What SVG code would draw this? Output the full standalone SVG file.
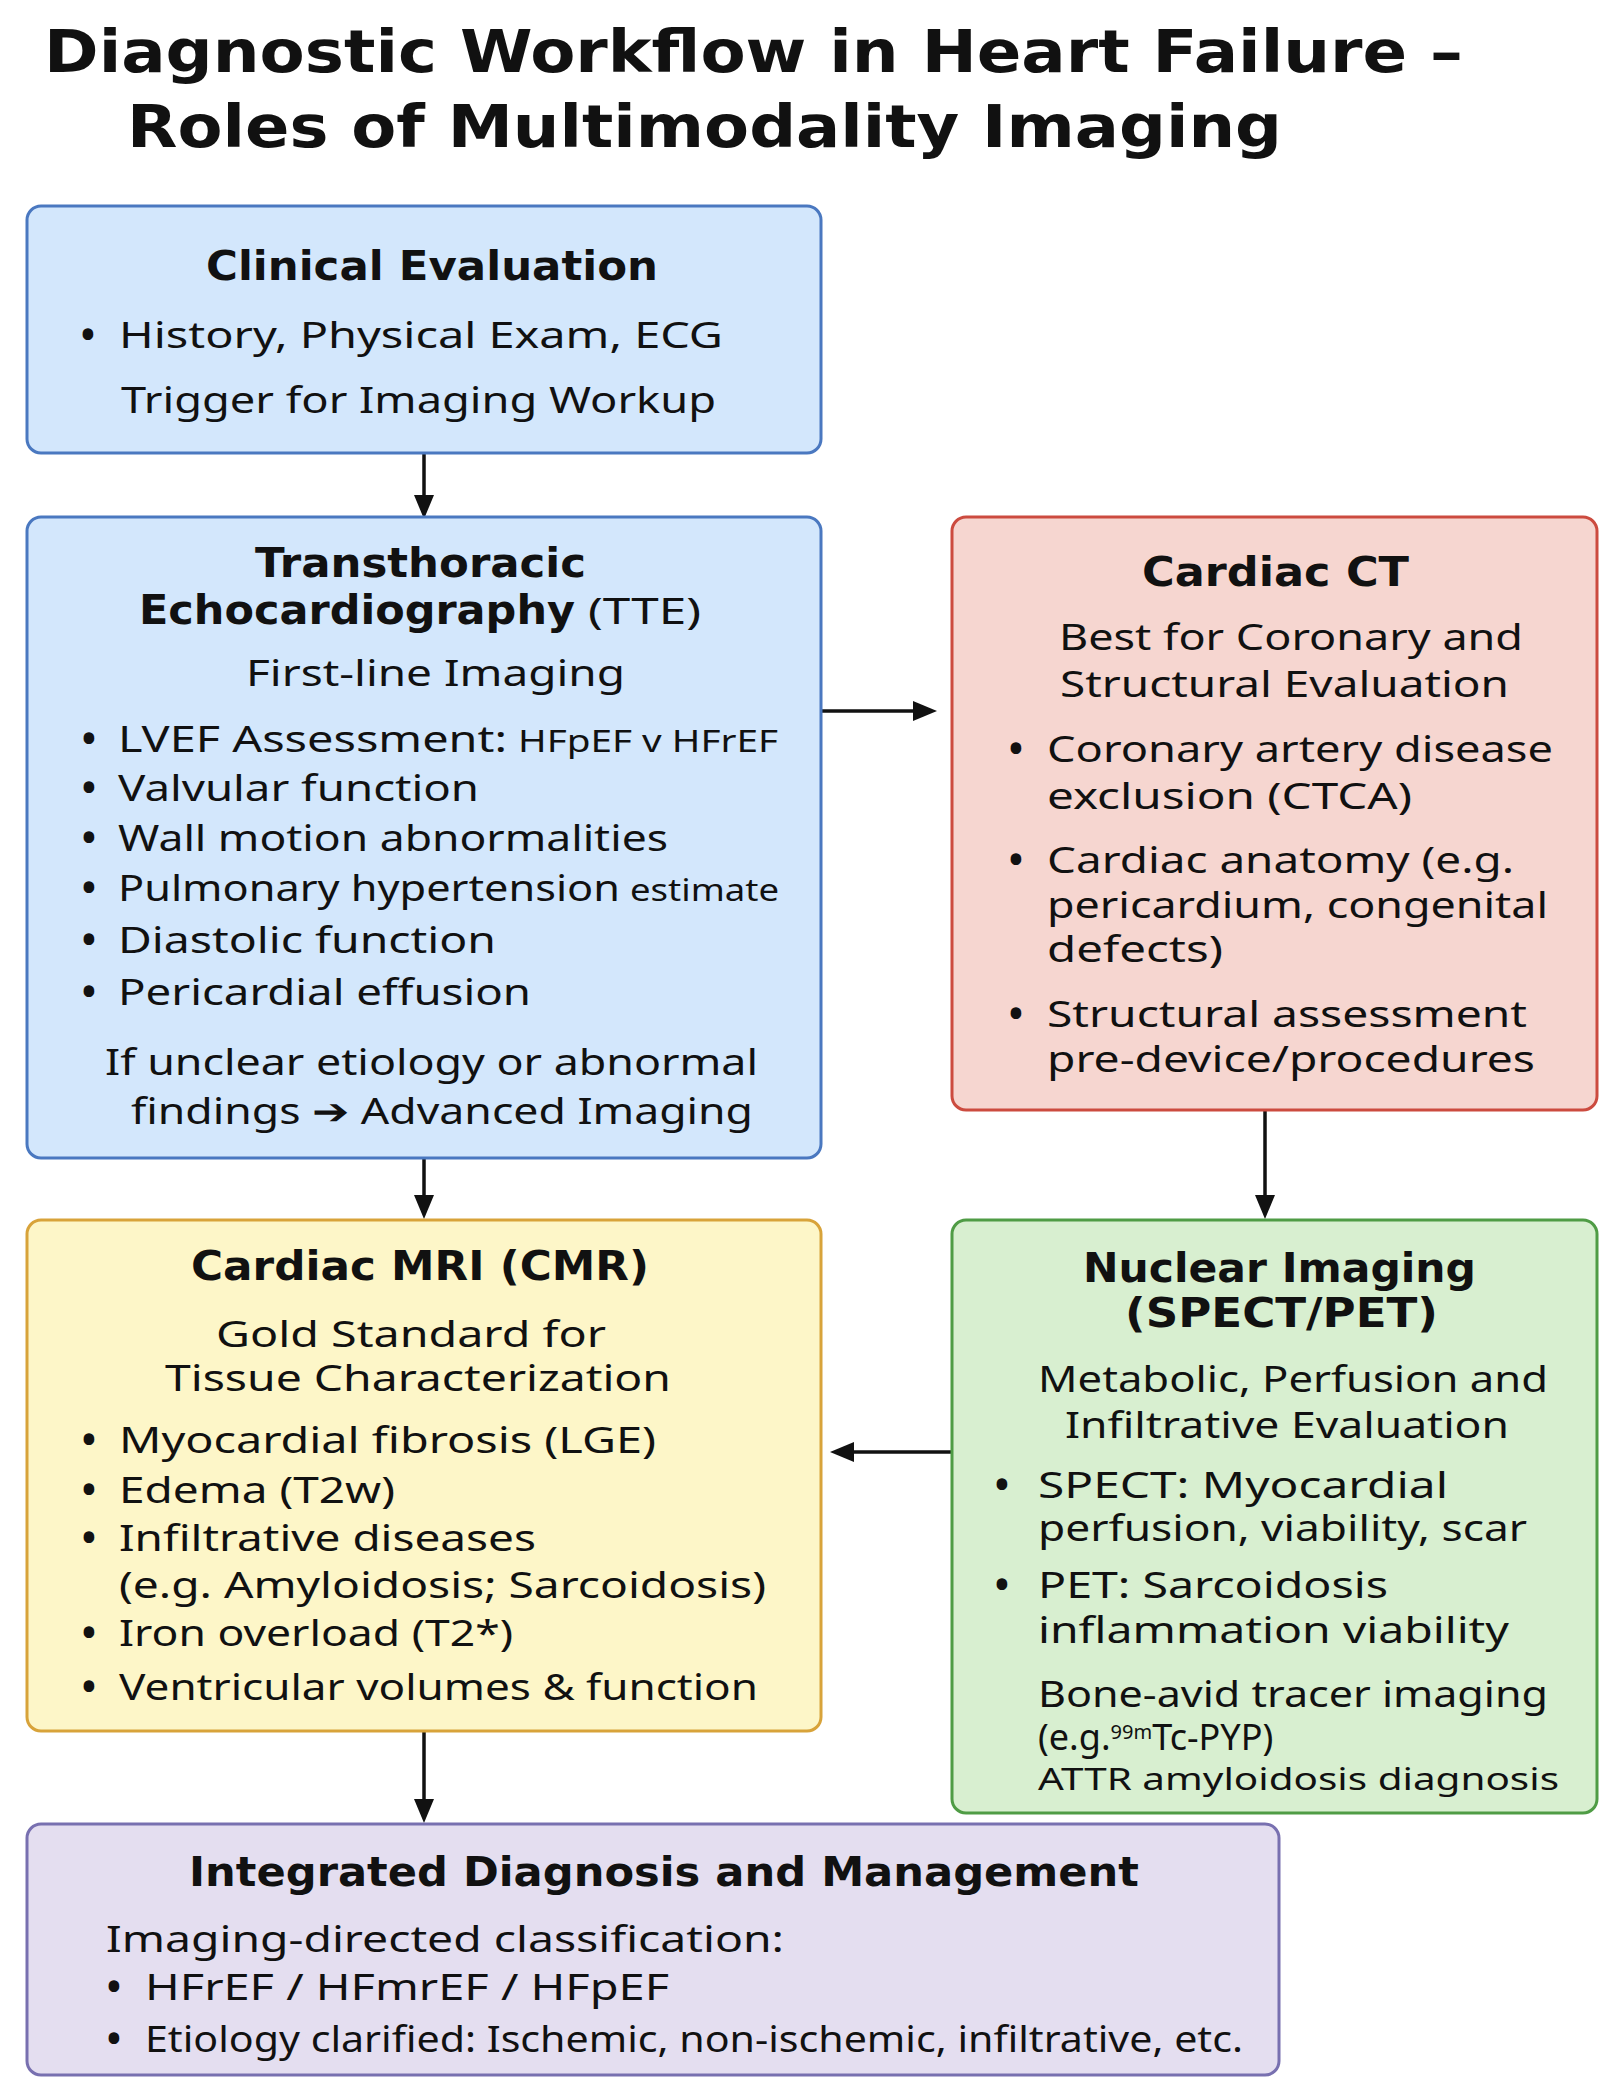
<svg xmlns="http://www.w3.org/2000/svg" width="1619" height="2099" viewBox="0 0 1619 2099">
<defs>
<marker id="ah" markerUnits="userSpaceOnUse" markerWidth="26" markerHeight="22" refX="11" refY="10" orient="auto">
<path d="M0,0 L24,10 L0,20 z" fill="#111"/>
</marker>
<style>
.box{stroke-width:3}
.blue{fill:#d3e7fc;stroke:#4a78c0}
.red{fill:#f6d6d0;stroke:#cc4b3f}
.yellow{fill:#fdf6c8;stroke:#d8a33a}
.green{fill:#d8efd0;stroke:#4f9c45}
.purple{fill:#e4def0;stroke:#7870b0}
text{fill:#111}
.title{font-family:"DejaVu Sans","Liberation Sans",sans-serif;font-weight:bold;font-size:58px}
.h{font-family:"DejaVu Sans","Liberation Sans",sans-serif;font-weight:bold;font-size:40px}
.t{font-family:"Noto Sans","Open Sans","Liberation Sans",sans-serif;font-size:36px}
.s{font-family:"Noto Sans","Open Sans","Liberation Sans",sans-serif;font-size:31px}
.b{font-family:"Noto Sans","Liberation Sans",sans-serif;font-weight:bold;font-size:38px;text-anchor:middle}
.conn{fill:none;stroke:#111;stroke-width:3.5;marker-end:url(#ah)}
</style>
</defs>
<rect width="1619" height="2099" fill="#ffffff"/>
<g id="title">
<text class="title" x="44" y="72" textLength="1419" lengthAdjust="spacingAndGlyphs">Diagnostic Workflow in Heart Failure –</text>
<text class="title" x="127" y="147" textLength="1155" lengthAdjust="spacingAndGlyphs">Roles of Multimodality Imaging</text>
</g>
<g id="connectors">
<path class="conn" d="M424,453 V506"/>
<path class="conn" d="M821,711 H924"/>
<path class="conn" d="M424,1158 V1206"/>
<path class="conn" d="M1265,1110 V1206"/>
<path class="conn" d="M952,1452 H843"/>
<path class="conn" d="M424,1731 V1810"/>
</g>
<g id="clinical-evaluation">
<rect class="box blue" x="27" y="206" width="794" height="247" rx="14"/>
<text class="h" x="206" y="280" textLength="452" lengthAdjust="spacingAndGlyphs">Clinical Evaluation</text>
<text class="b" x="88" y="348">•</text>
<text class="t" x="119" y="348" textLength="604" lengthAdjust="spacingAndGlyphs">History, Physical Exam, ECG</text>
<text class="t" x="121" y="413" textLength="595" lengthAdjust="spacingAndGlyphs">Trigger for Imaging Workup</text>
</g>
<g id="tte">
<rect class="box blue" x="27" y="517" width="794" height="641" rx="14"/>
<text class="h" x="255" y="577" textLength="331" lengthAdjust="spacingAndGlyphs">Transthoracic</text>
<text class="h" x="139" y="624" textLength="436" lengthAdjust="spacingAndGlyphs">Echocardiography</text>
<text class="t" x="588" y="624" font-size="40" textLength="113" lengthAdjust="spacingAndGlyphs">(TTE)</text>
<text class="t" x="246" y="686" font-size="38" textLength="379" lengthAdjust="spacingAndGlyphs">First-line Imaging</text>
<text class="b" x="89" y="752">•</text>
<text class="t" x="118" y="752" textLength="389" lengthAdjust="spacingAndGlyphs">LVEF Assessment:</text>
<text class="s" x="518" y="752" font-size="33" textLength="260" lengthAdjust="spacingAndGlyphs">HFpEF v HFrEF</text>
<text class="b" x="89" y="801">•</text>
<text class="t" x="118" y="801" textLength="361" lengthAdjust="spacingAndGlyphs">Valvular function</text>
<text class="b" x="89" y="851">•</text>
<text class="t" x="118" y="851" textLength="550" lengthAdjust="spacingAndGlyphs">Wall motion abnormalities</text>
<text class="b" x="89" y="901">•</text>
<text class="t" x="118" y="901" textLength="502" lengthAdjust="spacingAndGlyphs">Pulmonary hypertension</text>
<text class="s" x="630" y="901" textLength="149" lengthAdjust="spacingAndGlyphs">estimate</text>
<text class="b" x="89" y="953">•</text>
<text class="t" x="118" y="953" textLength="378" lengthAdjust="spacingAndGlyphs">Diastolic function</text>
<text class="b" x="89" y="1005">•</text>
<text class="t" x="118" y="1005" textLength="413" lengthAdjust="spacingAndGlyphs">Pericardial effusion</text>
<text class="t" x="105" y="1075" font-size="37" textLength="653" lengthAdjust="spacingAndGlyphs">If unclear etiology or abnormal</text>
<text class="t" x="131" y="1124" font-size="37" textLength="622" lengthAdjust="spacingAndGlyphs">findings ➔ Advanced Imaging</text>
</g>
<g id="cardiac-ct">
<rect class="box red" x="952" y="517" width="645" height="593" rx="14"/>
<text class="h" x="1142" y="586" textLength="267" lengthAdjust="spacingAndGlyphs">Cardiac CT</text>
<text class="t" x="1059" y="650" font-size="37" textLength="464" lengthAdjust="spacingAndGlyphs">Best for Coronary and</text>
<text class="t" x="1060" y="697" font-size="37" textLength="449" lengthAdjust="spacingAndGlyphs">Structural Evaluation</text>
<text class="b" x="1016" y="762">•</text>
<text class="t" x="1047" y="762" font-size="37" textLength="506" lengthAdjust="spacingAndGlyphs">Coronary artery disease</text>
<text class="t" x="1047" y="809" font-size="37" textLength="365" lengthAdjust="spacingAndGlyphs">exclusion (CTCA)</text>
<text class="b" x="1016" y="873">•</text>
<text class="t" x="1047" y="873" font-size="37" textLength="467" lengthAdjust="spacingAndGlyphs">Cardiac anatomy (e.g.</text>
<text class="t" x="1047" y="918" font-size="37" textLength="501" lengthAdjust="spacingAndGlyphs">pericardium, congenital</text>
<text class="t" x="1047" y="962" font-size="37" textLength="176" lengthAdjust="spacingAndGlyphs">defects)</text>
<text class="b" x="1016" y="1027">•</text>
<text class="t" x="1047" y="1027" font-size="37" textLength="480" lengthAdjust="spacingAndGlyphs">Structural assessment</text>
<text class="t" x="1047" y="1072" font-size="37" textLength="488" lengthAdjust="spacingAndGlyphs">pre-device/procedures</text>
</g>
<g id="cardiac-mri">
<rect class="box yellow" x="27" y="1220" width="794" height="511" rx="14"/>
<text class="h" x="191" y="1280" textLength="458" lengthAdjust="spacingAndGlyphs">Cardiac MRI (CMR)</text>
<text class="t" x="216" y="1347" font-size="38" textLength="390" lengthAdjust="spacingAndGlyphs">Gold Standard for</text>
<text class="t" x="165" y="1391" font-size="38" textLength="506" lengthAdjust="spacingAndGlyphs">Tissue Characterization</text>
<text class="b" x="89" y="1453">•</text>
<text class="t" x="119" y="1453" font-size="37" textLength="537" lengthAdjust="spacingAndGlyphs">Myocardial fibrosis (LGE)</text>
<text class="b" x="89" y="1503">•</text>
<text class="t" x="119" y="1503" font-size="37" textLength="276" lengthAdjust="spacingAndGlyphs">Edema (T2w)</text>
<text class="b" x="89" y="1551">•</text>
<text class="t" x="119" y="1551" font-size="37" textLength="417" lengthAdjust="spacingAndGlyphs">Infiltrative diseases</text>
<text class="t" x="119" y="1598" font-size="37" textLength="647" lengthAdjust="spacingAndGlyphs">(e.g. Amyloidosis; Sarcoidosis)</text>
<text class="b" x="89" y="1646">•</text>
<text class="t" x="119" y="1646" font-size="37" textLength="394" lengthAdjust="spacingAndGlyphs">Iron overload (T2*)</text>
<text class="b" x="89" y="1700">•</text>
<text class="t" x="119" y="1700" font-size="37" textLength="639" lengthAdjust="spacingAndGlyphs">Ventricular volumes &amp; function</text>
</g>
<g id="nuclear-imaging">
<rect class="box green" x="952" y="1220" width="645" height="593" rx="14"/>
<text class="h" x="1083" y="1282" textLength="393" lengthAdjust="spacingAndGlyphs">Nuclear Imaging</text>
<text class="h" x="1125" y="1327" textLength="313" lengthAdjust="spacingAndGlyphs">(SPECT/PET)</text>
<text class="t" x="1038" y="1392" textLength="510" lengthAdjust="spacingAndGlyphs">Metabolic, Perfusion and</text>
<text class="t" x="1065" y="1438" textLength="444" lengthAdjust="spacingAndGlyphs">Infiltrative Evaluation</text>
<text class="b" x="1002" y="1498">•</text>
<text class="t" x="1038" y="1498" font-size="34" textLength="410" lengthAdjust="spacingAndGlyphs">SPECT: Myocardial</text>
<text class="t" x="1038" y="1541" font-size="34" textLength="489" lengthAdjust="spacingAndGlyphs">perfusion, viability, scar</text>
<text class="b" x="1002" y="1598">•</text>
<text class="t" x="1038" y="1598" textLength="350" lengthAdjust="spacingAndGlyphs">PET: Sarcoidosis</text>
<text class="t" x="1038" y="1643" textLength="471" lengthAdjust="spacingAndGlyphs">inflammation viability</text>
<text class="t" x="1038" y="1707" textLength="510" lengthAdjust="spacingAndGlyphs">Bone-avid tracer imaging</text>
<text class="t" x="1038" y="1750" font-size="33">(e.g.<tspan font-size="20" dy="-11">99m</tspan><tspan dy="11">Tc-PYP)</tspan></text>
<text class="s" x="1038" y="1790" font-size="32" textLength="521" lengthAdjust="spacingAndGlyphs">ATTR amyloidosis diagnosis</text>
</g>
<g id="integrated-diagnosis">
<rect class="box purple" x="27" y="1824" width="1252" height="251" rx="14"/>
<text class="h" x="189" y="1886" font-size="38" textLength="950" lengthAdjust="spacingAndGlyphs">Integrated Diagnosis and Management</text>
<text class="t" x="106" y="1952" textLength="678" lengthAdjust="spacingAndGlyphs">Imaging-directed classification:</text>
<text class="b" x="114" y="2000">•</text>
<text class="t" x="145" y="2000" textLength="524" lengthAdjust="spacingAndGlyphs">HFrEF / HFmrEF / HFpEF</text>
<text class="b" x="114" y="2052">•</text>
<text class="t" x="145" y="2052" font-size="35" textLength="1098" lengthAdjust="spacingAndGlyphs">Etiology clarified: Ischemic, non-ischemic, infiltrative, etc.</text>
</g>
</svg>
